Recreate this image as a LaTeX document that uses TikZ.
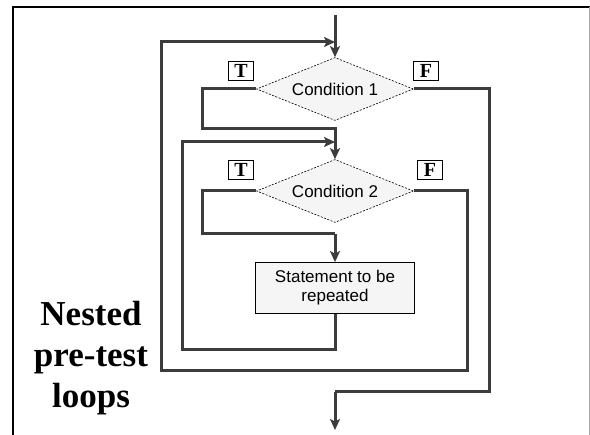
\documentclass[tikz,border=0pt]{standalone}
\usepackage{fontspec}
\setmainfont{Liberation Serif}
\setsansfont{Liberation Sans}
\usetikzlibrary{shapes.geometric,arrows.meta}
\definecolor{flow}{HTML}{3C3C3C}
\definecolor{boxfill}{HTML}{F5F5F5}
\tikzset{
  flowline/.style={draw=flow, line width=3pt},
  flowarrow/.style={flowline, -{Stealth[length=11pt,width=10pt,inset=2.5pt]}},
  decision/.style={diamond, draw=black, line width=0.6pt, dash pattern=on 2pt off 1.5pt,
     fill=boxfill, minimum width=157pt, minimum height=63pt, inner sep=0pt, shape aspect=2.5,
     font=\sffamily\fontsize{17}{19}\selectfont},
  stmtbox/.style={rectangle, draw=black, line width=0.8pt, fill=boxfill,
     minimum width=159pt, minimum height=51pt, inner sep=0pt, align=center,
     font=\sffamily\fontsize{17}{19}\selectfont},
  tfbox/.style={rectangle, draw=black, line width=0.8pt, fill=white,
     minimum width=25pt, minimum height=19pt, inner sep=0pt,
     font=\bfseries\fontsize{20}{20}\selectfont},
  titletext/.style={align=center, font=\bfseries\fontsize{35}{41}\selectfont}
}
\begin{document}
\begin{tikzpicture}[x=1pt,y=-1pt]
\useasboundingbox (0,0) rectangle (590,435);
\fill[white] (0,0) rectangle (590,435);
% frame
\draw[black, line width=2.5pt] (13,435) -- (13,7) -- (590,7);
\draw[gray!70, line width=0.8pt] (589,7) -- (589,435);

% nodes
\node[decision] (d1) at (335,89) {Condition 1};
\node[decision] (d2) at (335,191) {Condition 2};
\node[stmtbox] (s) at (335,288) {Statement to be\\repeated};
\node[tfbox] (t1) at (241,71) {T};
\node[tfbox] (f1) at (426,71) {F};
\node[tfbox] (t2) at (241,170) {T};
\node[tfbox] (f2) at (430,170) {F};
\node[titletext] (title) at (91,358) {Nested\\pre-test\\loops};

% coordinates
\coordinate (start) at (335,15);
\coordinate (j1) at (335,42);
\coordinate (j2) at (335,142);
\coordinate (j3) at (335,129);
\coordinate (j4) at (335,234);
\coordinate (j5) at (335,350);
\coordinate (j6) at (335,392);
\coordinate (stop) at (335,430);

% main flow
\draw[flowarrow] (start) -- (d1.north);
\draw[flowline] (d1.west) -| (202,129) -- (j3) -- (j2);
\draw[flowarrow] (j2) -- (d2.north);
\draw[flowline] (d2.west) -| (202,234) -- (j4);
\draw[flowarrow] (j4) -- (s.north);
% inner loop back
\draw[flowarrow] (s.south) -- (j5) -| (182,142) -- (j2);
% outer loop back
\draw[flowarrow] (d2.east) -| (467,371) -| (161,42) -- (j1);
% exit
\draw[flowline] (d1.east) -| (489,392) -- (j6);
\draw[flowarrow] (j6) -- (stop);
\end{tikzpicture}
\end{document}
